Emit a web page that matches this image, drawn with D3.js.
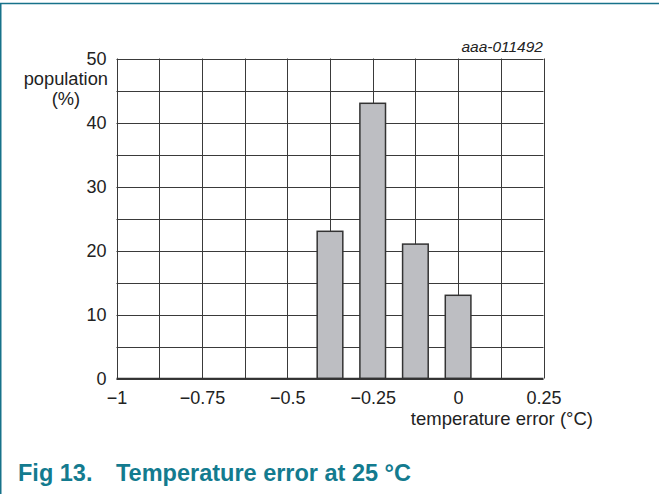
<!DOCTYPE html>
<html><head><meta charset="utf-8">
<script src="https://cdn.jsdelivr.net/npm/d3@7"></script>
<style>
body{margin:0;background:#fff;}
svg{display:block;}
text{font-family:Arial,"Liberation Sans",Helvetica,sans-serif;}
</style></head>
<body>
<script>
const binCenters = [-0.375, -0.25, -0.125, 0];
const populations = [23, 43, 21, 13];
const xTicks = [-1, -0.75, -0.5, -0.25, 0, 0.25];
const yTicks = [0, 10, 20, 30, 40, 50];
const xGrid = d3.range(-1, 0.25001, 0.125);
const yGrid = d3.range(0, 50.001, 5);
const binWidth = 0.075;

const W = 659, H = 494;
const svg = d3.select("body").append("svg").attr("width", W).attr("height", H);

const teal = "#17728a";
svg.append("line").attr("x1", 0).attr("x2", W).attr("y1", 3.5).attr("y2", 3.5).attr("stroke", teal).attr("stroke-width", 1.5);
svg.append("line").attr("x1", 0.75).attr("x2", 0.75).attr("y1", 3).attr("y2", H).attr("stroke", teal).attr("stroke-width", 1.5);

const x = d3.scaleLinear().domain([-1, 0.25]).range([116.5, 543.5]);
const y = d3.scaleLinear().domain([0, 50]).range([378.5, 58.5]);

const g = svg.append("g");
g.selectAll("line.vg").data(xGrid).join("line").attr("class", "vg")
  .attr("x1", d => Math.round(x(d)) + 0.5).attr("x2", d => Math.round(x(d)) + 0.5)
  .attr("y1", y(50)).attr("y2", y(0)).attr("stroke", "#3a3a3a").attr("stroke-width", 1);
g.selectAll("line.hg").data(yGrid).join("line").attr("class", "hg")
  .attr("x1", x(-1)).attr("x2", x(0.25))
  .attr("y1", d => Math.round(y(d)) + 0.5).attr("y2", d => Math.round(y(d)) + 0.5)
  .attr("stroke", "#3a3a3a").attr("stroke-width", 1);

g.selectAll("rect.bar").data(binCenters).join("rect").attr("class", "bar")
  .attr("x", d => x(d - binWidth / 2))
  .attr("width", d => x(d + binWidth / 2) - x(d - binWidth / 2))
  .attr("y", (d, i) => y(populations[i]))
  .attr("height", (d, i) => y(0) - y(populations[i]))
  .attr("fill", "#bdbec2").attr("stroke", "#333").attr("stroke-width", 1.5);

g.append("line").attr("x1", x(-1)).attr("x2", x(0.25)).attr("y1", y(0)).attr("y2", y(0)).attr("stroke", "#333").attr("stroke-width", 1.6);

const fmt = d => (d < 0 ? "\u2212" + String(Math.abs(d)) : String(d));

const xAxis = svg.append("g").attr("transform", `translate(0,${y(0)})`)
  .call(d3.axisBottom(x).tickValues(xTicks).tickSize(0).tickPadding(0).tickFormat(fmt));
xAxis.select(".domain").remove();
xAxis.selectAll("text").attr("dy", null).attr("y", 25).attr("font-size", 18).attr("fill", "#222")
  .attr("font-family", "Arial, 'Liberation Sans', sans-serif");

const yAxis = svg.append("g").attr("transform", `translate(${x(-1)},0)`)
  .call(d3.axisLeft(y).tickValues(yTicks).tickSize(0).tickPadding(10).tickFormat(d => String(d)));
yAxis.select(".domain").remove();
yAxis.selectAll("text").attr("dy", "0.36em").attr("font-size", 18).attr("fill", "#222")
  .attr("font-family", "Arial, 'Liberation Sans', sans-serif");

svg.append("text").attr("x", 108).attr("y", 85).attr("text-anchor", "end").attr("font-size", 18.3).attr("fill", "#222").text("population");
svg.append("text").attr("x", 66).attr("y", 105).attr("text-anchor", "middle").attr("font-size", 18.3).attr("fill", "#222").text("(%)");
svg.append("text").attr("x", 593).attr("y", 424.5).attr("text-anchor", "end").attr("font-size", 18.5).attr("fill", "#222").text("temperature error (°C)");
svg.append("text").attr("x", 543).attr("y", 52).attr("text-anchor", "end").attr("font-size", 15.5).attr("font-style", "italic").attr("fill", "#222").text("aaa-011492");

const titleColor = "#137b8f";
svg.append("text").attr("x", 18).attr("y", 481).attr("font-size", 23.5).attr("font-weight", "bold").attr("fill", titleColor).text("Fig 13.");
svg.append("text").attr("x", 116).attr("y", 481).attr("font-size", 23.5).attr("font-weight", "bold").attr("fill", titleColor).text("Temperature error at 25 °C");
</script>
</body></html>
